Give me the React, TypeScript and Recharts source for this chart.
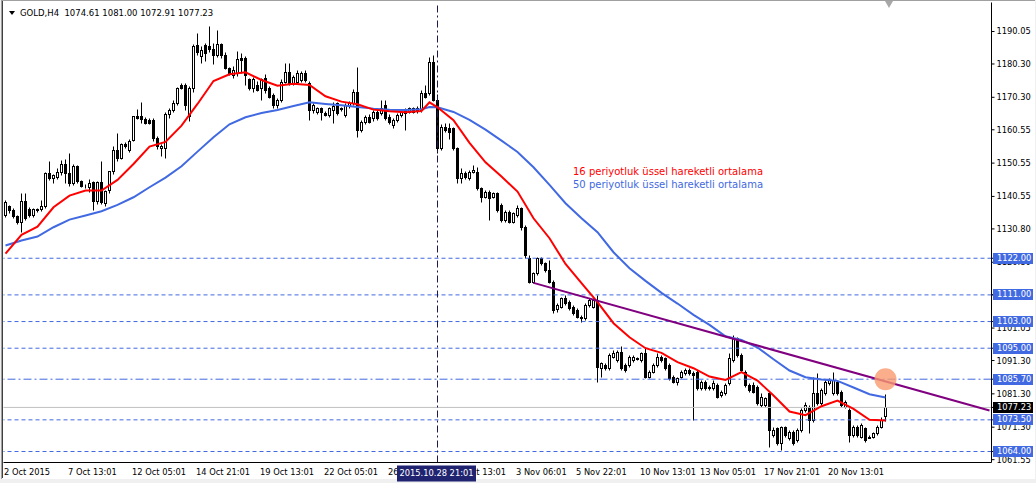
import React from 'react';
import { ComposedChart, Bar, Line, XAxis, YAxis, ReferenceLine, ReferenceDot } from 'recharts';

// ---- Candle data (GOLD, H4) ----
const opens = [
  1134.9,1137.4,1136.2,1134.4,1132.7,1138.9,1136.6,1134.9,1136.3,1136.5,
  1137.4,1147.4,1145.9,1146.2,1147.6,1150.0,1147.4,1144.4,1149.4,1144.9,
  1143.4,1143.3,1144.6,1138.9,1144.6,1138.4,1142.3,1147.9,1154.4,1151.9,
  1156.1,1154.4,1157.2,1164.4,1164.4,1163.7,1163.3,1163.3,1157.9,1155.0,
  1154.9,1165.0,1166.3,1168.4,1173.7,1173.9,1164.4,1172.9,1185.9,1182.4,
  1185.9,1185.6,1184.6,1182.9,1186.2,1182.9,1178.9,1176.9,1177.3,1181.8,
  1181.8,1175.5,1172.8,1173.8,1172.8,1175.8,1172.8,1170.8,1167.8,1169.3,
  1174.8,1177.8,1174.3,1174.8,1175.3,1177.3,1174.3,1166.3,1165.8,1166.8,
  1165.5,1164.8,1166.3,1168.5,1166.8,1164.8,1167.5,1168.3,1171.8,1160.3,
  1162.8,1164.3,1163.8,1165.8,1165.3,1167.8,1164.3,1161.8,1163.3,1164.8,
  1166.3,1165.8,1166.8,1166.3,1166.3,1171.3,1171.3,1180.8,1169.3,1155.0,
  1161.3,1160.8,1160.8,1154.8,1145.8,1147.3,1145.8,1147.8,1147.8,1142.8,
  1140.3,1141.8,1140.3,1141.3,1137.8,1133.3,1135.8,1132.8,1134.8,1136.8,
  1131.3,1121.8,1114.8,1117.3,1121.8,1120.3,1118.3,1114.8,1106.5,1107.3,
  1109.8,1108.8,1107.3,1106.3,1104.3,1103.8,1107.8,1107.3,1109.3,1088.8,
  1089.8,1088.8,1092.3,1091.3,1093.8,1089.8,1089.8,1091.3,1091.8,1091.3,
  1093.3,1086.3,1087.8,1089.8,1092.3,1091.8,1089.8,1086.3,1084.8,1086.3,
  1087.3,1088.3,1087.5,1087.8,1082.8,1084.8,1083.3,1082.8,1083.8,1080.8,
  1081.3,1084.3,1091.3,1097.8,1092.8,1087.8,1083.8,1083.8,1083.3,1077.8,
  1077.8,1081.3,1068.8,1070.8,1066.3,1071.1,1067.8,1069.8,1067.3,1070.3,
  1076.3,1077.3,1073.3,1081.3,1078.3,1081.3,1084.3,1081.3,1084.8,1081.8,
  1077.3,1076.3,1068.8,1071.3,1068.3,1070.8,1068.3,1068.3,1069.3,1071.3,
  1074.61,
];
const highs = [
  1139.4,1137.9,1137.0,1134.8,1141.5,1141.3,1137.2,1137.0,1137.0,1139.4,
  1147.8,1150.9,1147.0,1148.8,1151.4,1151.6,1153.4,1150.0,1149.8,1145.4,
  1144.0,1145.5,1145.0,1145.0,1150.9,1142.3,1148.0,1155.5,1159.4,1156.5,
  1156.6,1157.5,1164.6,1166.6,1168.6,1164.1,1164.0,1163.9,1158.5,1156.0,
  1165.7,1167.0,1169.3,1173.3,1174.5,1174.5,1173.5,1186.0,1189.4,1185.5,
  1186.3,1191.4,1186.3,1190.4,1186.5,1183.8,1179.3,1179.4,1183.9,1183.3,
  1182.5,1176.0,1176.3,1175.0,1176.0,1177.0,1173.5,1171.3,1169.8,1175.5,
  1180.3,1180.3,1176.8,1178.3,1178.0,1178.3,1175.0,1168.3,1167.3,1167.3,
  1166.0,1167.3,1168.8,1168.8,1167.3,1168.3,1169.0,1172.5,1179.3,1163.3,
  1164.8,1165.0,1166.3,1166.5,1169.3,1169.3,1165.0,1163.8,1165.3,1166.3,
  1166.8,1167.3,1167.3,1167.5,1172.3,1173.8,1182.3,1182.8,1171.0,1162.0,
  1162.3,1162.3,1161.3,1155.3,1148.8,1148.0,1148.3,1149.8,1149.3,1143.3,
  1142.3,1142.3,1141.8,1141.8,1138.3,1136.3,1136.3,1135.8,1137.8,1137.3,
  1131.8,1122.8,1117.8,1122.3,1122.3,1120.8,1121.3,1115.3,1108.3,1110.3,
  1110.8,1109.3,1107.8,1106.8,1104.8,1108.3,1109.8,1109.8,1110.8,1090.8,
  1090.3,1093.3,1094.3,1094.3,1095.5,1090.3,1092.8,1092.8,1092.3,1093.8,
  1094.8,1088.3,1090.3,1093.3,1092.8,1092.3,1090.3,1086.8,1086.3,1088.3,
  1088.8,1088.8,1088.0,1088.3,1085.3,1085.3,1083.8,1085.3,1084.3,1082.3,
  1084.3,1093.3,1098.8,1098.3,1093.3,1088.3,1084.3,1084.8,1083.8,1081.3,
  1080.3,1081.8,1071.3,1071.3,1071.6,1071.6,1070.3,1070.3,1070.8,1076.8,
  1078.8,1077.8,1086.3,1087.3,1082.8,1085.3,1085.8,1087.6,1085.3,1082.3,
  1079.3,1076.8,1071.8,1071.8,1072.3,1071.3,1068.8,1069.8,1071.8,1074.3,
  1081.00,
];
const lows = [
  1134.1,1135.5,1133.8,1132.2,1129.7,1133.2,1134.2,1134.2,1135.8,1136.0,
  1137.0,1145.4,1144.4,1145.5,1146.8,1144.4,1143.4,1143.9,1144.5,1143.2,
  1142.8,1141.8,1136.3,1138.2,1138.0,1137.5,1141.5,1147.2,1151.0,1151.5,
  1155.0,1153.8,1156.9,1163.6,1162.3,1162.1,1162.0,1157.0,1154.7,1152.4,
  1151.9,1164.0,1165.8,1167.8,1172.5,1166.3,1163.0,1171.8,1182.9,1180.5,
  1181.0,1183.7,1180.0,1182.3,1181.9,1178.5,1176.8,1175.9,1176.5,1177.4,
  1173.8,1172.3,1171.8,1172.0,1169.3,1171.5,1170.0,1166.8,1167.0,1168.8,
  1174.3,1173.8,1173.8,1174.3,1174.8,1174.8,1163.3,1165.5,1165.0,1163.3,
  1164.5,1164.3,1162.3,1164.8,1166.0,1164.3,1167.0,1167.8,1158.3,1159.8,
  1162.0,1162.5,1163.0,1163.3,1164.8,1163.3,1162.0,1161.0,1162.8,1164.3,
  1160.3,1165.3,1165.3,1165.5,1165.8,1169.8,1170.8,1169.0,1153.3,1154.3,
  1159.8,1157.5,1154.3,1144.3,1144.3,1145.5,1145.3,1147.3,1142.3,1138.8,
  1139.8,1133.3,1139.8,1135.8,1132.8,1132.8,1132.3,1132.3,1134.3,1130.3,
  1121.8,1114.3,1114.3,1116.8,1119.8,1117.8,1114.3,1105.3,1105.8,1106.8,
  1107.8,1106.3,1104.8,1103.8,1102.8,1103.3,1107.3,1106.8,1084.8,1086.3,
  1088.3,1088.3,1091.8,1090.8,1088.3,1087.8,1089.3,1090.8,1091.3,1090.8,
  1085.8,1085.8,1087.3,1089.3,1090.8,1088.3,1085.3,1084.3,1083.8,1085.8,
  1086.8,1086.8,1073.3,1082.3,1082.3,1082.3,1082.3,1082.3,1079.8,1080.3,
  1080.8,1083.8,1090.8,1092.3,1087.8,1083.3,1081.8,1081.3,1077.8,1077.3,
  1077.3,1065.3,1068.3,1065.8,1064.3,1068.3,1067.3,1065.8,1066.8,1069.8,
  1075.8,1069.3,1072.8,1077.8,1077.8,1080.8,1083.8,1080.8,1080.8,1077.3,
  1076.8,1066.8,1068.3,1068.3,1067.8,1066.8,1067.8,1067.8,1068.8,1070.8,
  1072.91,
];
const closes = [
  1138.6,1136.2,1134.4,1132.7,1138.9,1133.9,1134.9,1136.6,1136.5,1137.5,
  1147.4,1145.9,1146.9,1147.7,1150.0,1147.4,1144.4,1149.4,1144.9,1143.4,
  1143.6,1144.4,1138.9,1144.6,1138.6,1141.9,1147.9,1154.4,1151.9,1156.1,
  1155.6,1157.0,1164.4,1163.9,1163.7,1162.4,1162.3,1157.9,1155.4,1155.6,
  1165.0,1166.3,1168.4,1172.9,1172.9,1167.9,1172.9,1185.6,1183.6,1184.3,
  1183.4,1184.6,1182.9,1186.2,1182.9,1178.9,1177.4,1178.3,1181.6,1181.4,
  1176.8,1172.8,1175.5,1172.3,1175.5,1172.3,1170.3,1167.8,1169.3,1174.8,
  1177.8,1174.3,1176.3,1177.3,1177.3,1175.3,1166.3,1167.8,1166.8,1165.8,
  1164.8,1166.8,1167.5,1165.3,1166.5,1167.8,1168.3,1171.8,1160.3,1162.8,
  1164.3,1162.8,1165.8,1163.8,1166.8,1163.8,1162.8,1163.3,1164.8,1165.8,
  1165.3,1166.8,1165.8,1166.8,1171.3,1170.3,1180.8,1169.3,1155.0,1161.3,
  1160.3,1159.8,1154.8,1145.8,1147.3,1146.3,1147.8,1148.3,1142.8,1140.3,
  1141.8,1139.8,1141.3,1136.3,1133.3,1135.8,1132.8,1135.3,1136.8,1131.3,
  1122.8,1114.8,1117.3,1121.8,1120.3,1118.3,1114.8,1106.3,1107.8,1109.8,
  1108.3,1106.8,1105.3,1104.3,1103.8,1107.8,1109.3,1109.3,1089.3,1090.3,
  1088.8,1092.8,1093.3,1093.8,1088.8,1088.3,1092.3,1092.3,1091.6,1093.3,
  1086.3,1087.8,1089.8,1092.3,1091.3,1088.8,1085.8,1084.8,1085.8,1087.8,
  1088.3,1087.3,1086.8,1082.8,1084.8,1082.8,1082.8,1084.3,1080.3,1081.8,
  1083.8,1091.8,1097.8,1092.8,1088.3,1083.8,1082.3,1081.8,1078.3,1080.3,
  1079.8,1070.3,1070.3,1066.3,1071.1,1068.8,1069.8,1066.3,1070.3,1076.3,
  1077.8,1073.3,1081.3,1078.3,1082.3,1084.8,1085.3,1085.3,1081.3,1077.8,
  1078.8,1068.8,1071.3,1068.8,1071.8,1067.3,1068.0,1069.3,1071.3,1073.3,
  1077.23,
];

// ---- Moving averages (bar index -> value) ----
const emaBars = [
  0,4,8,12,16,20,24,28,32,36,40,44,48,52,56,60,64,68,72,76,80,84,88,92,96,100,104,106,
  108,112,116,120,124,128,132,136,140,144,148,152,156,160,164,168,172,176,180,184,188,192,196,200,204,208,212,216,220,
];
const ema16 = [
  1123.4,1129.0,1131.5,1137.3,1140.8,1142.3,1142.3,1145.5,1150.3,1155.5,1156.9,1161.8,1168.3,1175.2,1177.2,1177.8,1175.5,1173.8,1174.4,1174.0,1170.6,1169.0,1168.2,1166.6,1166.1,1165.8,1166.2,1168.8,
  1167.3,1163.4,1156.6,1150.8,1146.5,1142.0,1134.0,1128.0,1120.3,1114.5,1108.8,1102.5,1098.3,1095.0,1093.6,1090.8,1089.0,1086.5,1085.5,1087.8,1085.3,1080.8,1076.0,1074.9,1077.6,1079.3,1076.8,1073.5,1073.3,
];
const ema50 = [
  1125.8,1127.3,1128.5,1131.3,1133.6,1134.8,1136.1,1138.0,1140.3,1143.3,1146.2,1149.6,1154.0,1158.3,1162.2,1164.3,1165.6,1166.5,1167.7,1168.8,1168.3,1167.9,1167.4,1166.9,1166.6,1166.5,1166.7,1167.4,
  1167.3,1165.9,1163.5,1160.6,1157.3,1153.9,1149.3,1144.0,1138.5,1134.0,1129.8,1123.8,1119.0,1115.2,1111.6,1108.4,1105.0,1102.0,1098.6,1097.5,1095.2,1091.7,1088.3,1086.3,1085.6,1085.2,1083.2,1081.2,1080.2,
];

// ---- Axis labels ----
const labelBars = [0, 16, 32, 48, 64, 80, 96, 112, 128, 143, 159, 174, 190, 206];
const labelTexts = [
  '2 Oct 2015', '7 Oct 13:01', '12 Oct 05:01', '14 Oct 21:01', '19 Oct 13:01', '22 Oct 05:01',
  '26 Oct 21:01', '29 Oct 13:01', '3 Nov 06:01', '5 Nov 22:01', '10 Nov 13:01', '13 Nov 05:01',
  '17 Nov 21:01', '20 Nov 13:01',
];
const priceTicks = [1190.05, 1180.30, 1170.30, 1160.55, 1150.55, 1140.55, 1130.80, 1120.80, 1111.05, 1101.05, 1091.30, 1081.30, 1071.30, 1061.55];

// ---- Horizontal levels, trend line, markers ----
const levels = [1122.00, 1111.00, 1103.00, 1095.00, 1085.70, 1073.50, 1064.00];
const dashDotLevel = 1085.70;
const lastPrice = 1077.23;
const cursorBar = 108;
const cursorText = '2015.10.28 21:01';
const trendStart = { bar: 132, price: 1114.6 };
const trendEnd = { bar: 246, price: 1076.3 };
const markerBar = 220;
const markerPrice = 1085.70;
const titleText = 'GOLD,H4  1074.61 1081.00 1072.91 1077.23';
const legend16 = '16 periyotluk üssel hareketli ortalama';
const legend50 = '50 periyotluk üssel hareketli ortalama';

const SLOTS = 247; // bar slots incl. the empty shift area on the right
const rows = Array.from({ length: SLOTS }, (_, i) => {
  const row: any = { i };
  if (i < closes.length) {
    row.o = opens[i];
    row.h = highs[i];
    row.l = lows[i];
    row.c = closes[i];
    row.range = [lows[i], highs[i]];
  }
  const k = emaBars.indexOf(i);
  if (k >= 0) {
    row.e16 = ema16[k];
    row.e50 = ema50[k];
  }
  return row;
});

const axisTicks = [...priceTicks, ...levels, lastPrice];

const FONT = 'DejaVu Sans';
const AXIS_FS = 8.3;
const BLUE = '#4169E1';

function Candle(props: any) {
  const { x, y, width, height, payload } = props;
  if (!payload || payload.h == null || !isFinite(y) || !isFinite(height)) return <g />;
  const top = Math.min(y, y + height);
  const h = Math.abs(height);
  const span = payload.h - payload.l;
  const k = span > 0 ? h / span : 0;
  const cx = Math.floor(x + width / 2) + 0.5;
  const snap = (v: number) => Math.round(v - 0.5) + 0.5;
  const py = (v: number) => snap(top + (payload.h - v) * k);
  const yH = py(payload.h);
  const yL = py(payload.l);
  const yO = py(payload.o);
  const yC = py(payload.c);
  const bull = payload.c >= payload.o;
  const bt = Math.min(yO, yC);
  const bb = Math.max(yO, yC);
  return (
    <g>
      <line x1={cx} x2={cx} y1={yH} y2={yL} stroke="#000" strokeWidth={1} />
      <rect x={cx - 1} y={bt} width={2} height={Math.max(bb - bt, 0)} fill={bull ? '#fff' : '#000'} stroke="#000" strokeWidth={1} />
    </g>
  );
}

// the cursor box is drawn with the last tick so it lies on top of the time labels
let cursorX: number | null = null;
function renderTimeTick(p: any) {
  const { x, y, payload } = p;
  const v = payload ? payload.value : null;
  if (v === cursorBar) cursorX = x;
  const idx = labelBars.indexOf(v);
  const parts: any[] = [];
  if (idx >= 0) {
    parts.push(
      <text key="t" x={x - 1.5} y={y + 12.5} fontSize={AXIS_FS} fontFamily={FONT} fill="#000" textAnchor="start">
        {labelTexts[idx]}
      </text>
    );
  }
  if (v === SLOTS - 1 && cursorX != null) {
    const cx = Math.floor(cursorX);
    parts.push(
      <g key="c">
        <rect x={cx - 40} y={y + 3} width={79} height={16} fill="#1F2370" />
        <text x={cx - 0.5} y={y + 11} dy="0.36em" textAnchor="middle" fontSize={AXIS_FS} fontFamily={FONT} fill="#fff">{cursorText}</text>
      </g>
    );
  }
  return <g>{parts}</g>;
}

function renderPriceTick(p: any) {
  const { x, y, payload } = p;
  const v = payload.value;
  const isLevel = levels.indexOf(v) >= 0;
  const isLast = v === lastPrice;
  if (isLevel || isLast) {
    const ry = Math.round(y - 5.5);
    return (
      <g>
        <rect x={x - 3.5} y={ry} width={40} height={11} fill={isLast ? '#000' : BLUE} />
        <text x={x + 0.5} y={ry + 5.5} dy="0.36em" fontSize={AXIS_FS} fontFamily={FONT} fill="#fff">{v.toFixed(2)}</text>
      </g>
    );
  }
  return (
    <text x={x} y={y} dy="0.36em" fontSize={AXIS_FS} fontFamily={FONT} fill="#000">{v.toFixed(2)}</text>
  );
}

export default function App() {
  cursorX = null;
  return (
    <div style={{ position: 'absolute', left: 0, top: 0, width: 1036, height: 483, background: '#F0F0F0', overflow: 'hidden', fontFamily: FONT }}>
      <div style={{ position: 'absolute', left: 1, top: 0, width: 1033, height: 478, background: '#fff', borderLeft: '1px solid #A0A0A0', borderTop: '1px solid #A0A0A0' }} />
      <div style={{ position: 'absolute', left: 2, top: 1, width: 1, height: 477, background: '#404040' }} />
      <div style={{ position: 'absolute', left: 0, top: 0 }}>
        <ComposedChart
          width={1036}
          height={483}
          data={rows}
          margin={{ top: 2.5, right: 0, bottom: 0.5, left: 3.5 }}
          barCategoryGap={0}
        >
          <XAxis
            dataKey="i"
            type="category"
            interval={0}
            height={20}
            tickLine={false}
            tickSize={0}
            tickMargin={0}
            axisLine={{ stroke: '#000' }}
            tick={renderTimeTick}
          />
          <YAxis
            orientation="right"
            type="number"
            width={44.5}
            domain={[1060.7, 1198.75]}
            allowDataOverflow
            ticks={axisTicks}
            interval={0}
            tickSize={3}
            tickMargin={2}
            tickLine={{ stroke: '#000' }}
            axisLine={{ stroke: '#000' }}
            tick={renderPriceTick}
          />
          {levels.map((lv) => (
            <ReferenceLine
              key={'lv' + lv}
              y={lv}
              stroke={BLUE}
              strokeWidth={1}
              strokeDasharray={lv === dashDotLevel ? '8 3 2 3' : '4 3'}
            />
          ))}
          <ReferenceLine y={lastPrice} stroke="#C0C0C0" strokeWidth={1} />
          <ReferenceLine x={cursorBar} stroke="#1A1A50" strokeWidth={1} strokeDasharray="7 3 2 3" />
          <Bar dataKey="range" shape={(p: any) => <Candle {...p} />} isAnimationActive={false} />
          <Line dataKey="e50" type="linear" stroke={BLUE} strokeWidth={2} dot={false} activeDot={false} connectNulls isAnimationActive={false} />
          <Line dataKey="e16" type="linear" stroke="#FF0000" strokeWidth={2} dot={false} activeDot={false} connectNulls isAnimationActive={false} />
          <ReferenceLine
            segment={[{ x: trendStart.bar, y: trendStart.price }, { x: trendEnd.bar, y: trendEnd.price }]}
            stroke="#800080"
            strokeWidth={2}
            ifOverflow="visible"
          />
          <ReferenceDot x={markerBar} y={markerPrice} r={11} fill="#F99A6E" fillOpacity={0.8} stroke="none" />
        </ComposedChart>
      </div>
      <div style={{ position: 'absolute', left: 885, top: 1, width: 0, height: 0, borderLeft: '4px solid transparent', borderRight: '4px solid transparent', borderTop: '7px solid #A8A8A8' }} />
      <div style={{ position: 'absolute', left: 9, top: 11, width: 0, height: 0, borderLeft: '3.5px solid transparent', borderRight: '3.5px solid transparent', borderTop: '4px solid #000' }} />
      <div style={{ position: 'absolute', left: 20, top: 7.5, fontSize: 8.5, lineHeight: '10px', whiteSpace: 'pre', color: '#000' }}>{titleText}</div>
      <div style={{ position: 'absolute', left: 573, top: 166.5, fontSize: 10, lineHeight: '10px', whiteSpace: 'pre', color: '#FF0000' }}>{legend16}</div>
      <div style={{ position: 'absolute', left: 573, top: 180, fontSize: 10, lineHeight: '10px', whiteSpace: 'pre', color: BLUE }}>{legend50}</div>
    </div>
  );
}
